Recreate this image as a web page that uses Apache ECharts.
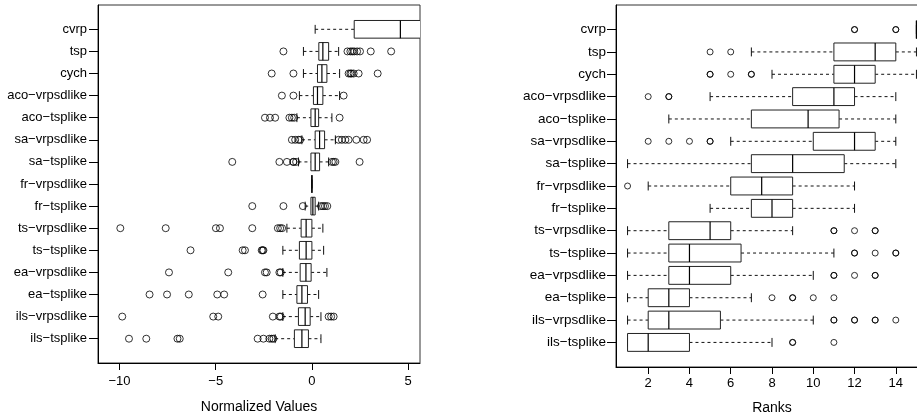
<!DOCTYPE html>
<html>
<head>
<meta charset="utf-8">
<style>
  html, body { margin: 0; padding: 0; background: #fff; }
  #chart { width: 917px; height: 416px; }
</style>
<script src="https://cdn.jsdelivr.net/npm/echarts@6/dist/echarts.min.js"></script>
</head>
<body>
<div id="chart"></div>
<script>
// ---- categories (top to bottom) ----
const categories = ['cvrp', 'tsp', 'cych', 'aco\u2212vrpsdlike', 'aco\u2212tsplike', 'sa\u2212vrpsdlike', 'sa\u2212tsplike',
  'fr\u2212vrpsdlike', 'fr\u2212tsplike', 'ts\u2212vrpsdlike', 'ts\u2212tsplike', 'ea\u2212vrpsdlike', 'ea\u2212tsplike',
  'ils\u2212vrpsdlike', 'ils\u2212tsplike'];

// ---- left panel: Normalized Values ----
const normLow    = [0.17, -0.44, -0.44, -0.65, -0.78, -0.52, -0.70, 0, -0.35, -1.30, -1.51, -1.51, -1.51, -1.51, -1.91];
const normQ1     = [2.20,  0.36,  0.29,  0.08, -0.05,  0.17, -0.05, 0, -0.05, -0.56, -0.65, -0.61, -0.78, -0.70, -0.91];
const normMedian = [4.60,  0.57,  0.52,  0.29,  0.17,  0.40,  0.17, 0,  0.05, -0.30, -0.30, -0.31, -0.52, -0.35, -0.52];
const normQ3     = [7.50,  0.87,  0.78,  0.57,  0.35,  0.66,  0.40, 0,  0.17,  0.00,  0.00, -0.04, -0.23, -0.09, -0.18];
const normHigh   = [12.0,  1.39,  1.44,  1.44,  1.04,  1.22,  0.87, 0,  0.35,  0.57,  0.61,  0.78,  0.35,  0.47,  0.47];
const normOutliers = [
  [],
  [-1.48, 1.85, 2.0, 2.1, 2.2, 2.35, 2.5, 3.06, 4.12],
  [-2.09, -0.96, 1.91, 2.0, 2.06, 2.17, 2.43, 3.42],
  [-1.56, -0.96, 1.65],
  [-2.44, -2.18, -1.91, -1.17, -1.04, -0.92, 1.44],
  [-1.04, -0.87, -0.70, -0.61, 1.39, 1.56, 1.74, 1.91, 2.31, 2.69, 2.87],
  [-4.14, -1.69, -1.30, -0.96, -0.96, -0.82, 1.04, 1.13, 1.22, 2.48],
  [],
  [-3.10, -1.48, -0.47, 0.47, 0.58, 0.68, 0.80],
  [-9.96, -7.60, -4.99, -4.78, -3.10, -1.77, -1.65, -1.55],
  [-6.31, -3.60, -3.48, -2.61, -2.56, -2.52],
  [-7.43, -4.35, -2.44, -2.35, -1.69, -1.62],
  [-8.44, -7.53, -6.40, -4.92, -4.56, -2.56],
  [-9.86, -5.13, -4.87, -2.03, -1.69, -1.62, 0.87, 1.0, 1.13],
  [-9.51, -8.61, -6.99, -6.87, -2.82, -2.52, -2.21, -2.09, -2.0]
];
const normTicks = [-10, -5, 0, 5];

// ---- right panel: Ranks ----
const rankLow    = [15,  7,  8,  5, 3,     6,  1,    2,   5, 1, 1,   1, 1, 1,   1];
const rankQ1     = [15, 11, 11,  9, 7,    10,  7,    6,   7, 3, 3,   3, 2, 2,   1];
const rankMedian = [15, 13, 12, 11, 9.75, 12,  9,    7.5, 8, 5, 4,   4, 3, 3,   2];
const rankQ3     = [15, 14, 13, 12, 11.25,13, 11.5,  9,   9, 6, 6.5, 6, 4, 5.5, 4];
const rankHigh   = [15, 15, 15, 14, 14,   14, 14,   12,  12, 9, 11, 10, 7, 10,  8];
const rankOutliers = [
  [12, 12, 14, 14],
  [5, 6],
  [5, 5, 6, 7, 7],
  [2, 3, 3],
  [],
  [2, 3, 4, 5, 5],
  [],
  [1],
  [],
  [11, 11, 12, 13, 13],
  [12, 12, 13, 14, 14],
  [11, 11, 12, 13, 13],
  [8, 9, 9, 10, 11],
  [11, 11, 12, 12, 13, 13, 14],
  [9, 9, 11]
];
const rankTicks = [2, 4, 6, 8, 10, 12, 14];

// ---- build ----
const n = categories.length;
const positions = categories.map((c, i) => n - i); // cvrp at top
const FONT = 'Liberation Sans, Arial, Helvetica, sans-serif';

function boxData(low, q1, med, q3, high) {
  return categories.map((c, i) => [positions[i], low[i], q1[i], med[i], q3[i], high[i]]);
}
function outlierData(outs) {
  const d = [];
  outs.forEach((arr, i) => arr.forEach(v => d.push([v, positions[i]])));
  return d;
}
function minusFmt(v) {
  return v < 0 ? '\u2212' + Math.abs(v) : String(v);
}

function renderBox(params, api) {
  const pos = api.value(0);
  const lo = api.value(1), q1 = api.value(2), med = api.value(3), q3 = api.value(4), hi = api.value(5);
  const pLo = api.coord([lo, pos]);
  const pQ1 = api.coord([q1, pos]);
  const pMed = api.coord([med, pos]);
  const pQ3 = api.coord([q3, pos]);
  const pHi = api.coord([hi, pos]);
  const bh = api.size([0, 0.8])[1];
  const sh = bh / 2;
  const y = pMed[1];
  const stroke = '#111';
  const children = [];
  if (pQ1[0] > pLo[0]) {
    children.push({ type: 'line', shape: { x1: pLo[0], y1: y, x2: pQ1[0], y2: y },
      style: { stroke: stroke, lineWidth: 1, lineDash: [3, 3] } });
  }
  if (pHi[0] > pQ3[0]) {
    children.push({ type: 'line', shape: { x1: pQ3[0], y1: y, x2: pHi[0], y2: y },
      style: { stroke: stroke, lineWidth: 1, lineDash: [3, 3] } });
  }
  children.push({ type: 'line', shape: { x1: pLo[0], y1: y - sh / 2, x2: pLo[0], y2: y + sh / 2 },
    style: { stroke: stroke, lineWidth: 1 } });
  children.push({ type: 'line', shape: { x1: pHi[0], y1: y - sh / 2, x2: pHi[0], y2: y + sh / 2 },
    style: { stroke: stroke, lineWidth: 1 } });
  children.push({ type: 'rect', shape: { x: pQ1[0], y: y - bh / 2, width: pQ3[0] - pQ1[0], height: bh },
    style: { fill: '#fff', stroke: '#222', lineWidth: 1 } });
  children.push({ type: 'line', shape: { x1: pMed[0], y1: y - bh / 2, x2: pMed[0], y2: y + bh / 2 },
    style: { stroke: '#000', lineWidth: 1.2 } });
  return { type: 'group', children: children };
}

const yAxisCommon = {
  type: 'value', min: -0.1, max: 16.1,
  axisLine: { show: true, onZero: false, lineStyle: { color: '#000', width: 1 } },
  axisTick: { show: true, length: 9, lineStyle: { color: '#000' }, customValues: positions },
  axisLabel: { show: true, customValues: positions, margin: 11, fontSize: 13, color: '#000', fontFamily: FONT,
    formatter: v => categories[n - Math.round(v)] },
  splitLine: { show: false }
};

const option = {
  backgroundColor: '#fff',
  animation: false,
  grid: [
    { left: 98, top: 5, width: 322, height: 358, show: true, borderColor: '#333', borderWidth: 1,
      containLabel: false, outerBoundsMode: 'none' },
    { left: 616, top: 5, width: 312, height: 362, show: true, borderColor: '#333', borderWidth: 1,
      containLabel: false, outerBoundsMode: 'none' }
  ],
  xAxis: [
    { gridIndex: 0, type: 'value', min: -11.12, max: 5.62,
      name: 'Normalized Values', nameLocation: 'middle', nameGap: 37,
      nameTextStyle: { fontSize: 14, color: '#000', fontFamily: FONT },
      axisLine: { show: true, onZero: false, lineStyle: { color: '#000' } },
      axisTick: { show: true, length: 7, lineStyle: { color: '#000' }, customValues: normTicks },
      axisLabel: { customValues: normTicks, formatter: minusFmt, margin: 12, fontSize: 13, color: '#000', fontFamily: FONT },
      splitLine: { show: false } },
    { gridIndex: 1, type: 'value', min: 0.44, max: 15.56,
      name: 'Ranks', nameLocation: 'middle', nameGap: 34,
      nameTextStyle: { fontSize: 14, color: '#000', fontFamily: FONT },
      axisLine: { show: true, onZero: false, lineStyle: { color: '#000' } },
      axisTick: { show: true, length: 7, lineStyle: { color: '#000' }, customValues: rankTicks },
      axisLabel: { customValues: rankTicks, margin: 10, fontSize: 13, color: '#000', fontFamily: FONT },
      splitLine: { show: false } }
  ],
  yAxis: [
    Object.assign({ gridIndex: 0 }, yAxisCommon),
    Object.assign({ gridIndex: 1 }, yAxisCommon, { axisLabel: Object.assign({}, yAxisCommon.axisLabel, { margin: 10, fontSize: 13.5 }) })
  ],
  series: [
    { type: 'custom', xAxisIndex: 0, yAxisIndex: 0, renderItem: renderBox, clip: true,
      encode: { y: 0, x: [1, 2, 3, 4, 5] },
      data: boxData(normLow, normQ1, normMedian, normQ3, normHigh) },
    { type: 'scatter', xAxisIndex: 0, yAxisIndex: 0, symbol: 'circle', symbolSize: 7,
      itemStyle: { color: 'rgba(0,0,0,0)', borderColor: '#000', borderWidth: 1 },
      data: outlierData(normOutliers) },
    { type: 'custom', xAxisIndex: 1, yAxisIndex: 1, renderItem: renderBox, clip: true,
      encode: { y: 0, x: [1, 2, 3, 4, 5] },
      data: boxData(rankLow, rankQ1, rankMedian, rankQ3, rankHigh) },
    { type: 'scatter', xAxisIndex: 1, yAxisIndex: 1, symbol: 'circle', symbolSize: 6,
      itemStyle: { color: 'rgba(0,0,0,0)', borderColor: '#000', borderWidth: 1 },
      data: outlierData(rankOutliers) }
  ]
};

const chart = echarts.init(document.getElementById('chart'), null, { renderer: 'canvas' });
chart.setOption(option);
</script>
</body>
</html>
